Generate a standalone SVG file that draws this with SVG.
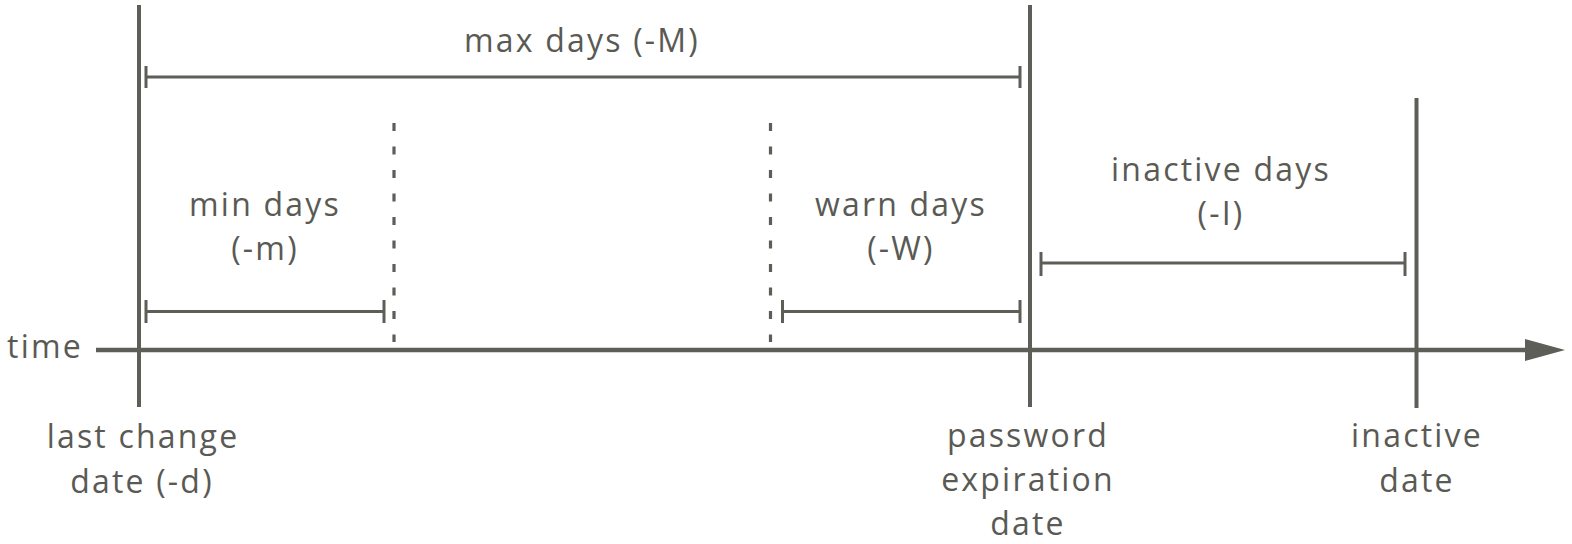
<svg xmlns="http://www.w3.org/2000/svg" width="1572" height="544" viewBox="0 0 1572 544">
<style>
.bg{fill:#ffffff}
.main{stroke:#5e5e59;stroke-width:4;fill:none}
.axis{stroke:#5e5e59;stroke-width:4.5;fill:none}
.bar{stroke:#5e5e59;stroke-width:3;fill:none}
.dot{stroke:#5e5e59;stroke-width:3.2;fill:none;stroke-dasharray:8 15.5}
text{font-family:"Open Sans","Noto Sans","Liberation Sans",sans-serif;font-size:32px;font-weight:500;fill:#5a5a55;letter-spacing:2.2px;text-anchor:middle}
</style>
<defs>
<marker id="arrow" viewBox="0 0 40 22" refX="0" refY="11" markerWidth="40" markerHeight="22" markerUnits="userSpaceOnUse" orient="auto">
<path d="M0,0 L40,11 L0,22 Z" fill="#5e5e59"/>
</marker>
</defs>
<rect class="bg" x="0" y="0" width="1572" height="544"/>
<g id="connectors">
<line id="time-axis" class="axis" x1="96" y1="350" x2="1525" y2="350" marker-end="url(#arrow)"/>
<line class="dot" x1="394" y1="123" x2="394" y2="342"/>
<line class="dot" x1="770.5" y1="123" x2="770.5" y2="342"/>
</g>
<g id="last-change">
<line class="main" x1="139" y1="5" x2="139" y2="407"/>
<text x="143" y="448">last change</text>
<text x="142" y="493">date (-d)</text>
</g>
<g id="password-expiration">
<line class="main" x1="1030" y1="5" x2="1030" y2="407"/>
<text x="1028" y="447">password</text>
<text x="1028" y="491">expiration</text>
<text x="1028" y="535">date</text>
</g>
<g id="inactive-date">
<line class="main" x1="1416.5" y1="98" x2="1416.5" y2="408"/>
<text x="1417" y="447">inactive</text>
<text x="1417" y="492">date</text>
</g>
<g id="time-label">
<text x="45" y="358">time</text>
</g>
<g id="max-days">
<text x="582" y="52">max days (-M)</text>
<path class="bar" d="M146,66 V88 M146,77 H1020 M1020,66 V88"/>
</g>
<g id="min-days">
<text x="265" y="216">min days</text>
<text x="265" y="260">(-m)</text>
<path class="bar" d="M146,300 V323 M146,311.5 H384 M384,300 V323"/>
</g>
<g id="warn-days">
<text x="901" y="216">warn days</text>
<text x="901" y="260">(-W)</text>
<path class="bar" d="M782.5,300 V323 M782.5,311.5 H1020 M1020,300 V323"/>
</g>
<g id="inactive-days">
<text x="1221" y="181">inactive days</text>
<text x="1221" y="225">(-I)</text>
<path class="bar" d="M1041,252 V276 M1041,263 H1405 M1405,252 V276"/>
</g>
</svg>
